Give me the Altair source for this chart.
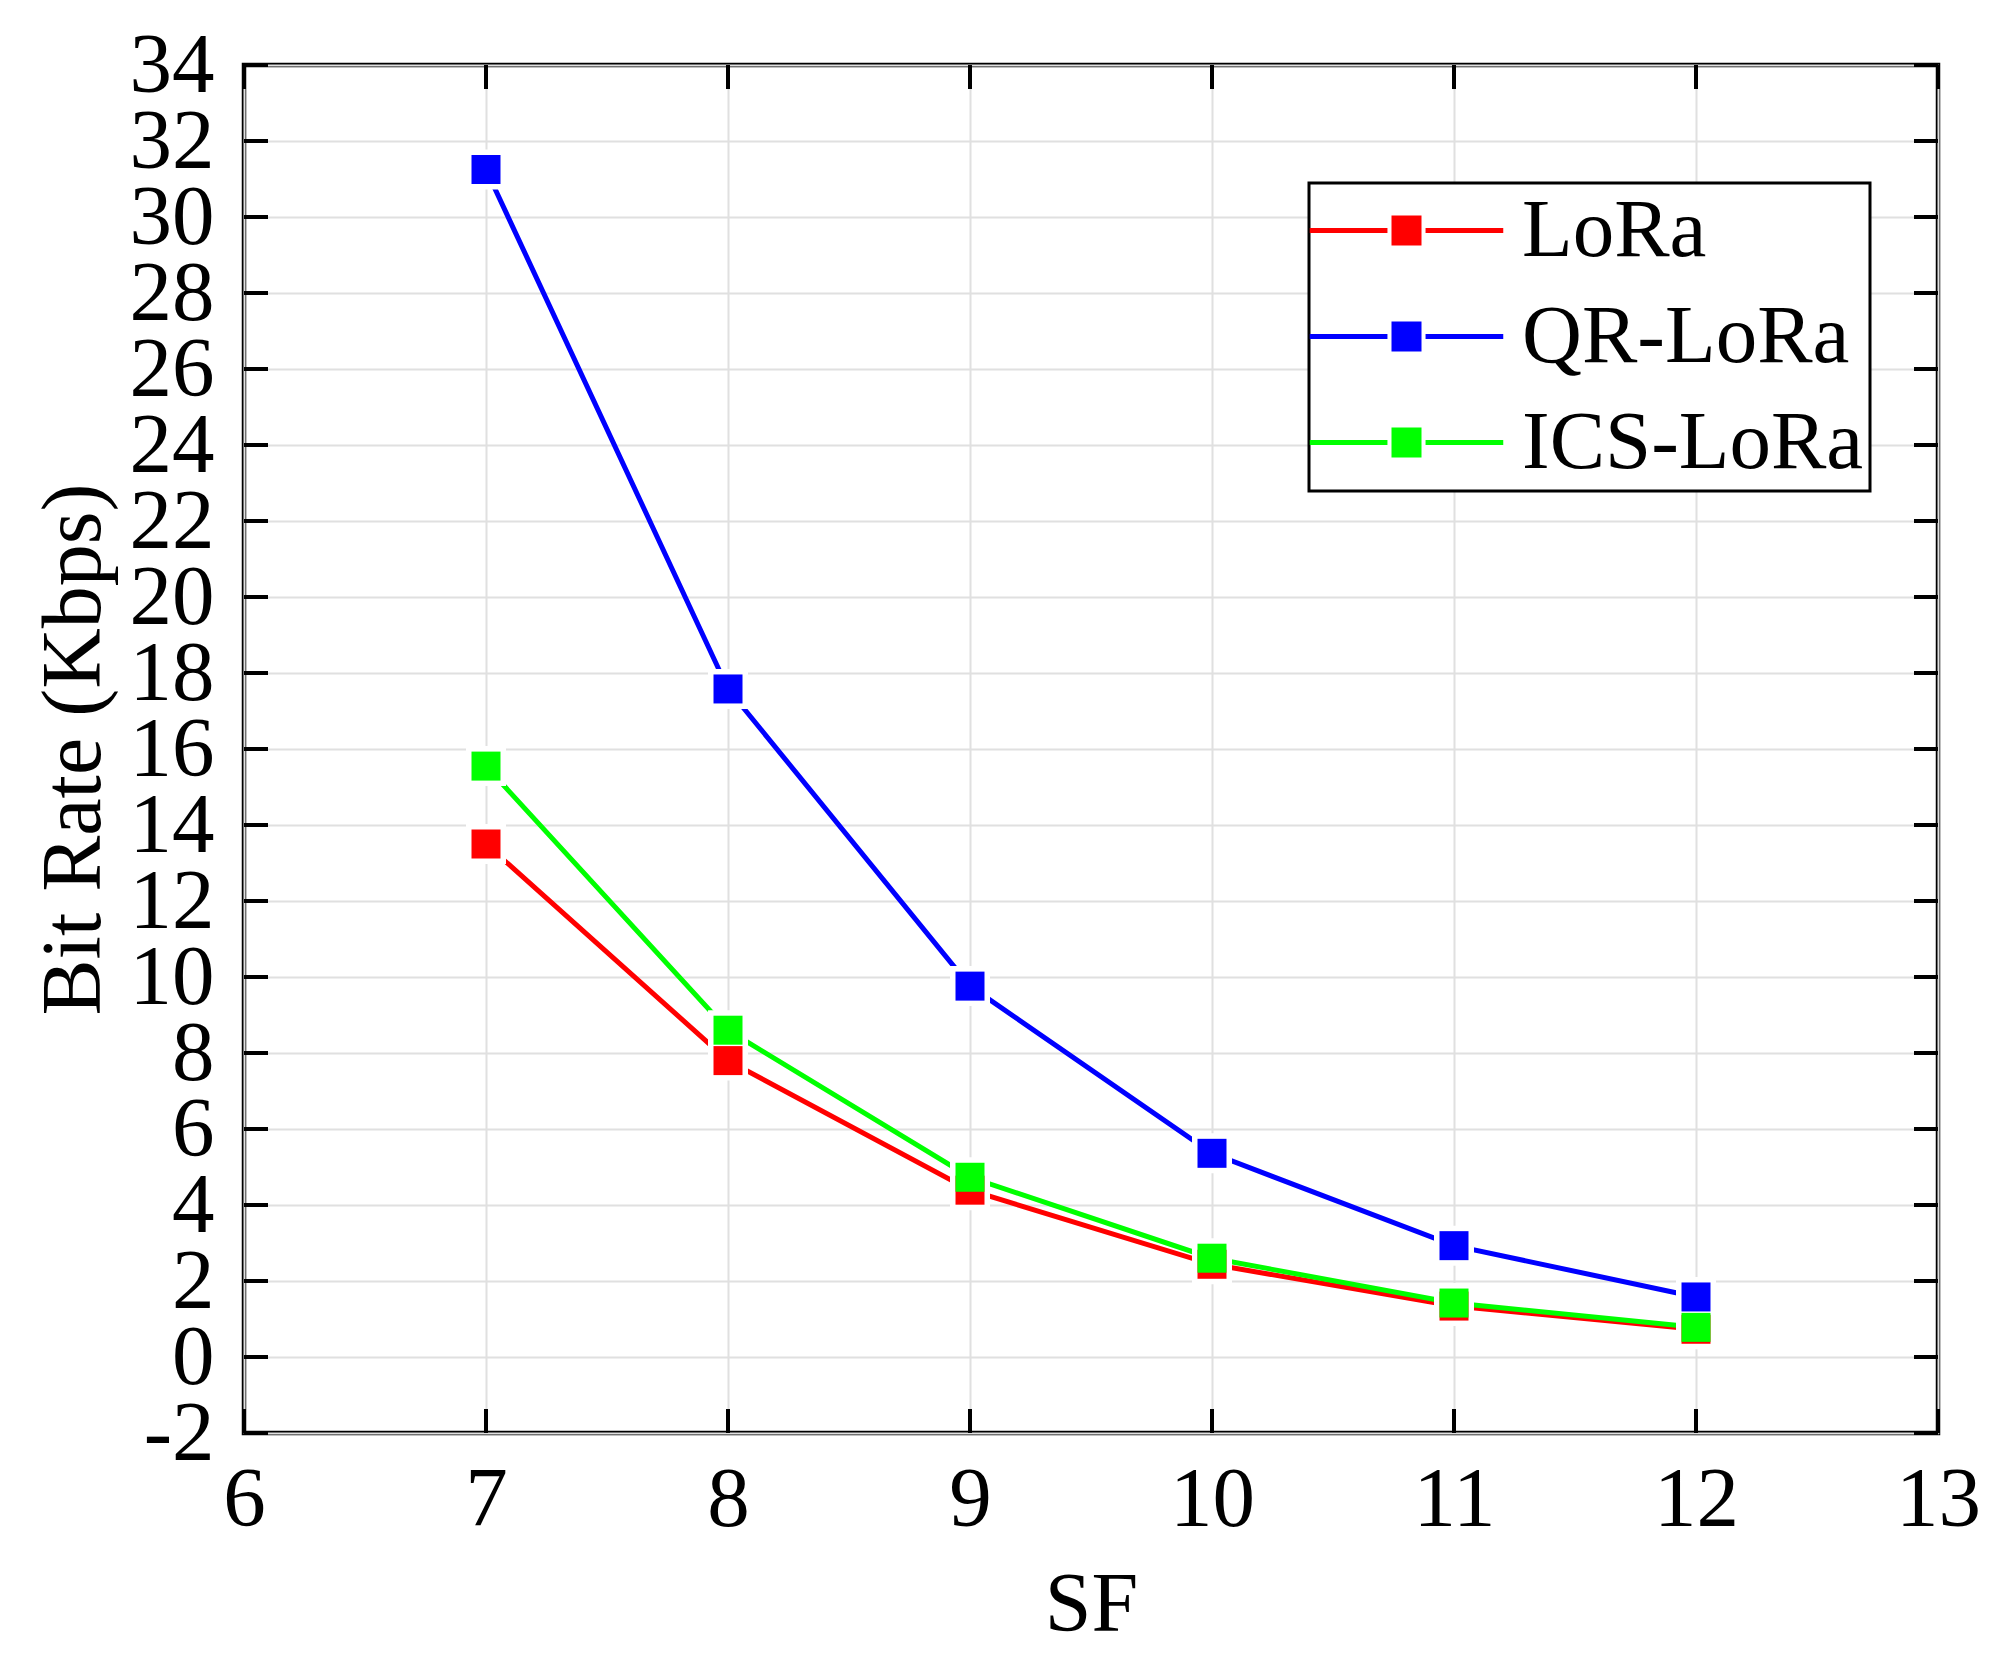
import altair as alt
import pandas as pd

# ---- data ----
sf = [7, 8, 9, 10, 11, 12]
lora = [13.5, 7.8, 4.39, 2.44, 1.34, 0.73]
qr_lora = [31.25, 17.58, 9.76, 5.36, 2.93, 1.58]
ics_lora = [15.55, 8.6, 4.73, 2.6, 1.42, 0.78]

series_names = ["LoRa", "QR-LoRa", "ICS-LoRa"]
series_colors = ["#ff0000", "#0000ff", "#00ff00"]

y_ticks = list(range(-2, 35, 2))
x_ticks = list(range(6, 14))

W, H = 1694, 1368
TICK = 24
FONT = "Liberation Serif"

rows = []
for name, vals in zip(series_names, [lora, qr_lora, ics_lora]):
    for s, v in zip(sf, vals):
        rows.append({"SF": s, "Rate": v, "Series": name})
df = pd.DataFrame(rows)
yt = pd.DataFrame({"SF": [6] * len(y_ticks), "Rate": y_ticks})
xt = pd.DataFrame({"SF": x_ticks, "Rate": [0] * len(x_ticks)})

xscale = alt.Scale(domain=[6, 13], nice=False, zero=False)
yscale = alt.Scale(domain=[-2, 34], nice=False, zero=False)

xaxis = alt.Axis(values=x_ticks, title="SF", labelPadding=25, titlePadding=22,
                 labelExpr="toString(datum.value)", labelOverlap=False, labelFlush=False)
yaxis = alt.Axis(values=y_ticks, title="Bit Rate (Kbps)", labelPadding=30, titlePadding=12,
                 labelExpr="toString(datum.value)", labelOverlap=False, labelFlush=False)

X = alt.X("SF:Q", scale=xscale, axis=xaxis)
Y = alt.Y("Rate:Q", scale=yscale, axis=yaxis)

base = alt.Chart(df)

layers = []
for name, col in zip(series_names, series_colors):
    layers.append(
        base.transform_filter(alt.datum.Series == name)
        .mark_line(color=col, strokeWidth=5)
        .encode(x=X, y=Y)
    )

# white halos make the gap between lines and markers
layers.append(
    base.mark_point(shape="square", filled=True, color="white", size=1600, opacity=1)
    .encode(x=X, y=Y)
)

# legend symbol: line - gap - square - gap - line (unit = 15 px)
legend_path = ("M-6.45,-0.16L-1.27,-0.16L-1.27,0.16L-6.45,0.16Z "
               "M-1,-1L1,-1L1,1L-1,1Z "
               "M1.27,-0.16L6.45,-0.16L6.45,0.16L1.27,0.16Z")

layers.append(
    base.mark_point(shape="square", filled=True, size=841, opacity=1)
    .encode(
        x=X, y=Y,
        color=alt.Color(
            "Series:N",
            scale=alt.Scale(domain=series_names, range=series_colors),
            sort=series_names,
            legend=alt.Legend(
                title=None, orient="none", legendX=1065, legendY=118,
                symbolType=legend_path, symbolSize=900, symbolStrokeWidth=0,
                symbolOffset=50,
                symbolOpacity=1, labelFont=FONT, labelFontSize=83, labelColor="black",
                labelOffset=74, padding=6,
                strokeColor="black", fillColor="white",
                labelLimit=1000,
            ),
        ),
    )
)

tick_kw = dict(color="black", strokeWidth=4)
layers.append(alt.Chart(yt).mark_rule(**tick_kw).encode(
    y=Y, x=alt.value(0), x2=alt.value(TICK)))
layers.append(alt.Chart(yt).mark_rule(**tick_kw).encode(
    y=Y, x=alt.value(W - TICK), x2=alt.value(W)))
layers.append(alt.Chart(xt).mark_rule(**tick_kw).encode(
    x=X, y=alt.value(H - TICK), y2=alt.value(H)))
layers.append(alt.Chart(xt).mark_rule(**tick_kw).encode(
    x=X, y=alt.value(0), y2=alt.value(TICK)))

chart = (
    alt.layer(*layers)
    .properties(
        width=W, height=H,
        autosize=alt.AutoSizeParams(type="none"),
        padding={"left": 236, "top": 57, "right": 50, "bottom": 220},
        background="white",
    )
    .configure_view(stroke="black", strokeWidth=4.5)
    .configure_axis(
        labelFont=FONT, labelFontSize=85, labelColor="black",
        titleFont=FONT, titleFontSize=84, titleFontWeight="normal", titleColor="black",
        grid=True, gridColor="#e0e0e0", gridWidth=2,
        ticks=False, tickSize=0, domain=False,
    )
    .configure_legend(strokeWidth=3, rowPadding=22)
)

chart.save("out.html", embed_options={"renderer": "svg", "actions": False})
